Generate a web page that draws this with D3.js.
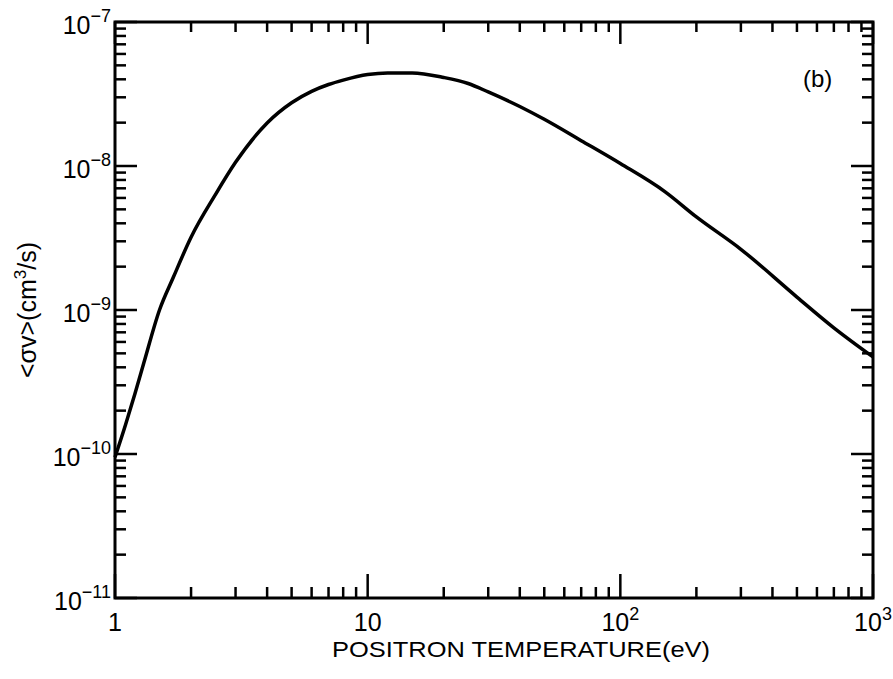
<!DOCTYPE html>
<html>
<head>
<meta charset="utf-8">
<script src="https://cdn.jsdelivr.net/npm/d3@7"></script>
<style>
  body { margin: 0; background: #fff; }
  .lbl { font-family: "Liberation Sans", "DejaVu Sans", sans-serif; fill: #000; }
</style>
</head>
<body>
<div id="chart"></div>
<script>
// positron temperature (eV) vs <sigma v> (cm^3/s)
var temperature = [1, 1.1, 1.2, 1.3, 1.5, 1.7, 2, 2.5, 3, 4, 5, 6, 7, 8, 10, 12, 15,
  20, 25, 30, 40, 50, 70, 100, 150, 200, 300, 500, 700, 1000];
var sigmaV = [9.5e-11, 1.59e-10, 2.63e-10, 4.28e-10, 1.0e-9, 1.68e-9, 3.2e-9, 6.35e-9,
  1.06e-8, 1.99e-8, 2.75e-8, 3.3e-8, 3.68e-8, 3.95e-8, 4.32e-8, 4.43e-8, 4.43e-8,
  4.12e-8, 3.74e-8, 3.27e-8, 2.59e-8, 2.11e-8, 1.5e-8, 1.04e-8, 6.64e-9, 4.43e-9,
  2.64e-9, 1.23e-9, 7.52e-10, 4.72e-10];

var xDecades = [1, 10, 100, 1000];
var xTickBase = ["1", "10", "10", "10"];
var xTickExp = ["", "", "2", "3"];

var yDecades = [1e-11, 1e-10, 1e-9, 1e-8, 1e-7];
var yTickExp = ["-11", "-10", "-9", "-8", "-7"];

var W = 893, H = 679;
var pLeft = 115, pRight = 873, pTop = 22, pBottom = 598;

var svg = d3.select('#chart').append('svg')
  .attr('width', W)
  .attr('height', H);

var x = d3.scaleLog().domain([1, 1000]).range([pLeft, pRight]);
var y = d3.scaleLog().domain([1e-11, 1e-7]).range([pBottom, pTop]);

// decades plus 2..9 in between
function allTicks(decades) {
  var out = [];
  decades.forEach(function(d, i) {
    out.push(d);
    if (i < decades.length - 1) for (var k = 2; k <= 9; k++) out.push(d * k);
  });
  return out;
}
function isDecade(d) {
  var l = Math.log10(d);
  return Math.abs(l - Math.round(l)) < 1e-6;
}
var xTicks = allTicks(xDecades);
var yTicks = allTicks(yDecades);

// frame
svg.append('rect')
  .attr('x', pLeft).attr('y', pTop)
  .attr('width', pRight - pLeft).attr('height', pBottom - pTop)
  .attr('fill', 'none')
  .attr('stroke', '#000')
  .attr('stroke-width', 3);

// inward ticks, longer at decades
function tickLines(cls, data, x1, y1, x2, y2) {
  svg.selectAll('.' + cls).data(data).enter().append('line')
    .attr('class', cls)
    .attr('x1', x1).attr('y1', y1)
    .attr('x2', x2).attr('y2', y2)
    .attr('stroke', '#000')
    .attr('stroke-width', 2.5);
}
tickLines('tb', xTicks, d => x(d), pBottom, d => x(d), d => pBottom - (isDecade(d) ? 24 : 11));
tickLines('tt', xTicks, d => x(d), pTop, d => x(d), d => pTop + (isDecade(d) ? 22 : 10));
tickLines('tl', yTicks, pLeft, d => y(d), d => pLeft + (isDecade(d) ? 22 : 11), d => y(d));
tickLines('tr', yTicks, pRight, d => y(d), d => pRight - (isDecade(d) ? 22 : 11), d => y(d));

// tick labels
var xl = svg.selectAll('.xlab').data(xDecades).enter().append('text')
  .attr('class', 'xlab lbl')
  .attr('x', d => x(d))
  .attr('y', 631)
  .attr('text-anchor', 'middle')
  .style('font-size', '25px');
xl.append('tspan').text((d, i) => xTickBase[i]);
xl.append('tspan').attr('dy', -11).style('font-size', '18px').text((d, i) => xTickExp[i]);

var yl = svg.selectAll('.ylab').data(yDecades).enter().append('text')
  .attr('class', 'ylab lbl')
  .attr('x', 111)
  .attr('y', d => y(d) + 12)
  .attr('text-anchor', 'end')
  .style('font-size', '25px');
yl.append('tspan').text('10');
yl.append('tspan').attr('dy', -12).style('font-size', '18px').text((d, i) => yTickExp[i].replace('-', '\u2212'));

// axis titles
svg.append('text')
  .attr('class', 'lbl')
  .attr('x', 521)
  .attr('y', 657)
  .attr('text-anchor', 'middle')
  .attr('textLength', 378)
  .attr('lengthAdjust', 'spacingAndGlyphs')
  .style('font-size', '22px')
  .text('POSITRON  TEMPERATURE(eV)');

var yt = svg.append('text')
  .attr('class', 'lbl')
  .attr('transform', 'translate(36,310) rotate(-90)')
  .attr('text-anchor', 'middle')
  .style('font-size', '25px');
yt.append('tspan').text('<\u03c3v>(cm');
yt.append('tspan').attr('dy', -10).style('font-size', '17px').text('3');
yt.append('tspan').attr('dy', 10).text('/s)');

svg.append('text')
  .attr('class', 'lbl')
  .attr('x', 803)
  .attr('y', 87)
  .style('font-size', '24px')
  .text('(b)');

// curve
var line = d3.line()
  .x((d, i) => x(temperature[i]))
  .y(d => y(d))
  .curve(d3.curveMonotoneX);

svg.append('path')
  .datum(sigmaV)
  .attr('d', line)
  .attr('fill', 'none')
  .attr('stroke', '#000')
  .attr('stroke-width', 3.5);
</script>
</body>
</html>
